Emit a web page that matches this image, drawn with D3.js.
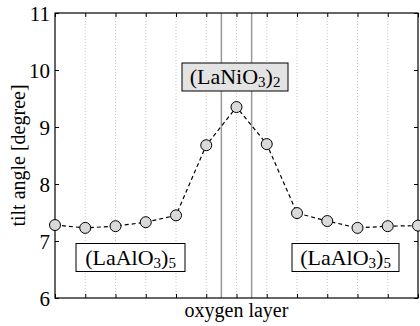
<!DOCTYPE html>
<html>
<head>
<meta charset="utf-8">
<script src="https://cdn.jsdelivr.net/npm/d3@7"></script>
<style>
  body { margin: 0; background: #fff; }
</style>
</head>
<body>
<div id="chart"></div>
<script>
// donnees
const layers = [0, 1, 2, 3, 4, 5, 6, 7, 8, 9, 10, 11, 12];
const tilt = [7.28, 7.23, 7.26, 7.33, 7.45, 8.68, 9.35, 8.70, 7.49, 7.35, 7.23, 7.26, 7.27];
const yTicks = [6, 7, 8, 9, 10, 11];
const interfaces = [5.5, 6.5];

const W = 420, H = 326;
const m = { left: 55, right: 2, top: 13, bottom: 28 };
const SERIF = "Liberation Serif";

const svg = d3.select("#chart").append("svg")
  .attr("width", W).attr("height", H);

const x = d3.scaleLinear().domain([0, 12]).range([m.left, W - m.right]);
const y = d3.scaleLinear().domain([6, 11]).range([H - m.bottom, m.top]);

// grille pointillee verticale
svg.append("g").selectAll("line")
  .data(layers.slice(1, -1)).enter()
  .append("line")
  .attr("x1", d => x(d)).attr("x2", d => x(d))
  .attr("y1", y(6)).attr("y2", y(11))
  .attr("stroke", "#b8b8b8").attr("stroke-width", 0.8)
  .attr("stroke-dasharray", "1,2");

// interfaces
svg.append("g").selectAll("line")
  .data(interfaces).enter()
  .append("line")
  .attr("x1", d => x(d)).attr("x2", d => x(d))
  .attr("y1", y(6)).attr("y2", y(11))
  .attr("stroke", "#999").attr("stroke-width", 1.5);

// axes
const tickLen = 4;
svg.append("g")
  .attr("transform", `translate(0,${y(6)})`)
  .call(d3.axisBottom(x).tickValues(layers).tickSize(-tickLen).tickFormat(""))
  .call(g => g.select(".domain").remove());
svg.append("g")
  .attr("transform", `translate(0,${y(11)})`)
  .call(d3.axisTop(x).tickValues(layers).tickSize(-tickLen).tickFormat(""))
  .call(g => g.select(".domain").remove());
svg.append("g")
  .attr("transform", `translate(${x(0)},0)`)
  .call(d3.axisLeft(y).tickValues(yTicks).tickSize(-tickLen).tickPadding(5).tickFormat(d3.format("d")))
  .call(g => g.select(".domain").remove())
  .call(g => g.selectAll("text")
    .attr("font-family", SERIF).attr("font-size", 21)
    .attr("fill", "#000").attr("dy", "0.34em"));
svg.append("g")
  .attr("transform", `translate(${x(12)},0)`)
  .call(d3.axisRight(y).tickValues(yTicks).tickSize(-tickLen).tickFormat(""))
  .call(g => g.select(".domain").remove());

svg.append("rect")
  .attr("x", x(0)).attr("y", y(11))
  .attr("width", x(12) - x(0)).attr("height", y(6) - y(11))
  .attr("fill", "none").attr("stroke", "#000").attr("stroke-width", 1.2);

// courbe
const line = d3.line().x((d, i) => x(layers[i])).y(d => y(d));
svg.append("path")
  .datum(tilt)
  .attr("d", line)
  .attr("fill", "none").attr("stroke", "#000")
  .attr("stroke-width", 1.2).attr("stroke-dasharray", "4,3");

svg.append("g").selectAll("circle")
  .data(tilt).enter()
  .append("circle")
  .attr("cx", (d, i) => x(layers[i])).attr("cy", d => y(d))
  .attr("r", 5.5)
  .attr("fill", "#d9d9d9").attr("stroke", "#000").attr("stroke-width", 1);

// etiquettes encadrees
function label(cx, cy, w, h, base, sub, fill) {
  svg.append("rect")
    .attr("x", cx - w / 2).attr("y", cy - h / 2)
    .attr("width", w).attr("height", h)
    .attr("fill", fill).attr("stroke", "#000").attr("stroke-width", 1);
  const t = svg.append("text")
    .attr("x", cx).attr("y", cy + 7)
    .attr("font-family", SERIF)
    .attr("text-anchor", "middle").attr("font-size", 22);
  t.append("tspan").attr("font-family", SERIF).text("(" + base);
  t.append("tspan").attr("font-family", SERIF).text("3").attr("font-size", 15).attr("dy", 3);
  t.append("tspan").attr("font-family", SERIF).text(")").attr("dy", -3);
  t.append("tspan").attr("font-family", SERIF).text(sub).attr("font-size", 15).attr("dy", 3);
}
label(235, 77, 106, 28, "LaNiO", "2", "#e3e3e3");
label(130.5, 257.5, 109, 28, "LaAlO", "5", "#fff");
label(345.5, 257.5, 107, 28, "LaAlO", "5", "#fff");

// titres des axes
svg.append("text")
  .attr("x", x(6)).attr("y", 317)
  .attr("font-family", SERIF)
  .attr("text-anchor", "middle").attr("font-size", 20)
  .text("oxygen layer");
svg.append("text")
  .attr("transform", `translate(25,${(y(6) + y(11)) / 2}) rotate(-90)`)
  .attr("font-family", SERIF)
  .attr("text-anchor", "middle").attr("font-size", 20)
  .text("tilt angle [degree]");
</script>
</body>
</html>
